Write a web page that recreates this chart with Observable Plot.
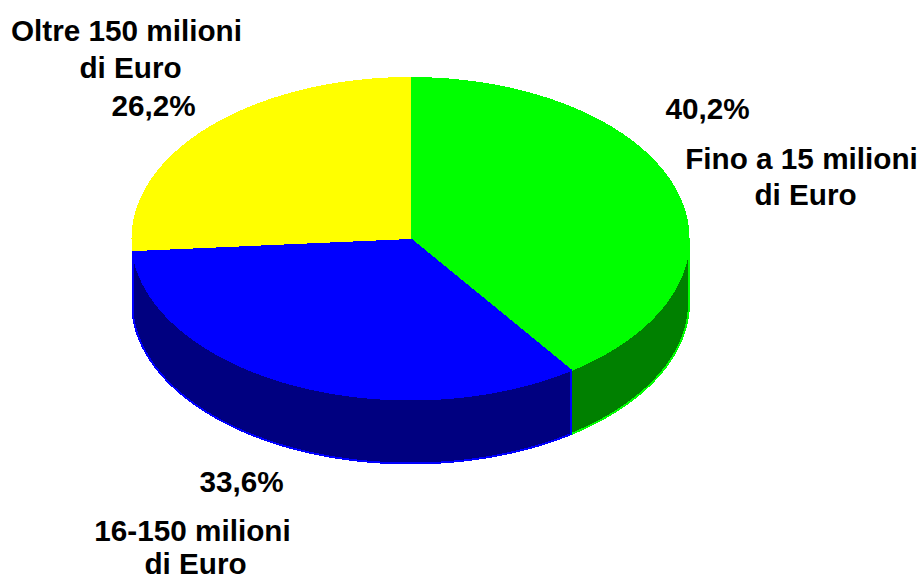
<!DOCTYPE html>
<html>
<head>
<meta charset="utf-8">
<script src="https://cdn.jsdelivr.net/npm/d3@7"></script>
<script src="https://cdn.jsdelivr.net/npm/@observablehq/plot@0.6"></script>
<style>
  html, body { margin: 0; padding: 0; background: #fff; }
  svg { display: block; }
</style>
</head>
<body>
<div id="chart"></div>
<script>
// Share of the total for each size class, clockwise from twelve o'clock
const categories = ["Fino a 15 milioni di Euro", "16-150 milioni di Euro", "Oltre 150 milioni di Euro"];
const shares = [40.2, 33.6, 26.2];
const shareLabels = ["40,2%", "33,6%", "26,2%"];
const topColors = ["#00ff00", "#0000ff", "#ffff00"];
const wallColors = ["#008000", "#000080"];

// Text lines and where they sit on the page
const labelLines = [
  { text: "Oltre 150 milioni", x: 126, y: 31 },
  { text: "di Euro", x: 130, y: 68 },
  { text: shareLabels[2], x: 153, y: 106 },
  { text: shareLabels[0], x: 707, y: 109 },
  { text: "Fino a 15 milioni", x: 801, y: 159 },
  { text: "di Euro", x: 805, y: 195 },
  { text: shareLabels[1], x: 241, y: 482 },
  { text: "16-150 milioni", x: 192, y: 531 },
  { text: "di Euro", x: 195, y: 564 }
];

// Tilted disc: ellipse centre, radii and thickness of the rim
const disc = { cx: 410, cy: 238, rx: 278.5, ry: 161, depth: 64 };

const rim = (deg, drop = 0) => {
  const t = deg * Math.PI / 180;
  return {
    x: disc.cx + disc.rx * Math.sin(t),
    y: disc.cy - disc.ry * Math.cos(t) + drop
  };
};
const arc = (from, to, drop = 0) => {
  const steps = Math.max(2, Math.ceil(Math.abs(to - from)));
  return d3.range(steps + 1).map(i => rim(from + (to - from) * i / steps, drop));
};

// Cumulative start and end angle of each slice
let running = 0;
const slices = shares.map((share, i) => {
  const start = running / 100 * 360;
  running += share;
  return { category: categories[i], start, end: running / 100 * 360, top: topColors[i], wall: wallColors[i] };
});

// Only the slices with a wall colour show a rim, starting at the right edge of the ellipse
const walls = slices
  .filter(s => s.wall)
  .map(s => {
    const from = Math.max(s.start, 90);
    return {
      color: s.top,
      wall: s.wall,
      points: [...arc(from, s.end), ...arc(s.end, from, disc.depth)]
    };
  });

const faces = slices.map(s => ({
  color: s.top,
  points: [{ x: disc.cx, y: disc.cy }, ...arc(s.start, s.end)]
}));

const polygon = (points, fill, stroke, strokeWidth) =>
  Plot.line(points, {
    x: "x", y: "y", curve: "linear-closed",
    fill, stroke, strokeWidth,
    strokeLinejoin: "miter", shapeRendering: "crispEdges"
  });

const chart = Plot.plot({
  width: 923,
  height: 577,
  margin: 0,
  x: { domain: [0, 923], range: [0, 923], axis: null },
  y: { domain: [0, 577], range: [0, 577], axis: null },
  marks: [
    ...walls.map(w => polygon(w.points, w.wall, w.color, 2)),
    ...faces.map(f => polygon(f.points, f.color, f.color, 1)),
    Plot.text(labelLines, {
      x: "x", y: "y", text: "text",
      fill: "#000", textAnchor: "middle", lineAnchor: "middle",
      fontFamily: "'Liberation Sans', Arial, sans-serif",
      fontWeight: "bold", fontSize: 29.7
    })
  ]
});
document.getElementById("chart").append(chart);
</script>
</body>
</html>
